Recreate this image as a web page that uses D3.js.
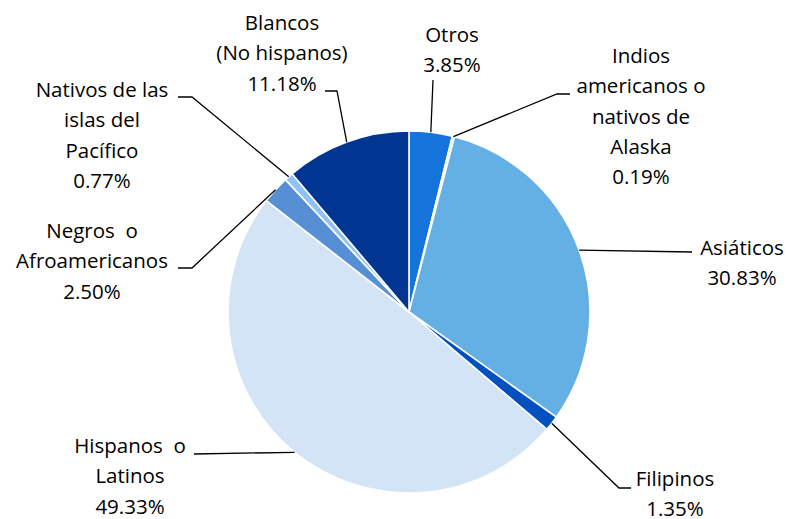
<!DOCTYPE html>
<html>
<head>
<meta charset="utf-8">
<script src="https://cdn.jsdelivr.net/npm/d3@7"></script>
<style>
  body { margin: 0; background: #fff; }
  text { font-family: "Open Sans", sans-serif; font-size: 20.5px; fill: #000; white-space: pre; }
</style>
</head>
<body>
<div id="wrapper"></div>
<script>
// data, clockwise from 12 o'clock
const categories = [
  ["Otros"],
  ["Indios", "americanos o", "nativos de", "Alaska"],
  ["Asiáticos"],
  ["Filipinos"],
  ["Hispanos  o", "Latinos"],
  ["Negros  o", "Afroamericanos"],
  ["Nativos de las", "islas del", "Pacífico"],
  ["Blancos", "(No hispanos)"]
]
const values = [3.85, 0.19, 30.83, 1.35, 49.33, 2.50, 0.77, 11.18]
const colors = ["#1574db", "#a8d0f7", "#64b0e4", "#0050c0", "#d2e4f5", "#578fd4", "#8ec1f5", "#003591"]

// label placement: text center x, first baseline y, leader points after pie edge
const labelLayout = [
  { x: 452, y: 42,  leader: [[433, 80]] },
  { x: 641, y: 63,  leader: [[557, 94], [570, 94]] },
  { x: 742, y: 255, leader: [[692, 252]] },
  { x: 675, y: 486, leader: [[619, 488], [631, 488]] },
  { x: 130, y: 453, leader: [[194, 454]] },
  { x: 92,  y: 238, leader: [[192, 268], [178, 268]] },
  { x: 102, y: 97,  leader: [[192, 97], [178, 97]] },
  { x: 282, y: 30,  leader: [[337, 91], [325, 91]] }
]

const dimensions = { width: 787, height: 519 }
const center = { x: 409, y: 312 }
const radius = 181
const lineHeight = 30.3

const svg = d3.select("#wrapper")
  .append("svg")
    .attr("width", dimensions.width)
    .attr("height", dimensions.height)

const pie = d3.pie().sort(null).value(d => d)
const arcs = pie(values)

const arcGen = d3.arc().innerRadius(0).outerRadius(radius)
const edgeArc = d3.arc().innerRadius(radius).outerRadius(radius)

const pieGroup = svg.append("g")
  .attr("transform", `translate(${center.x},${center.y})`)

pieGroup.selectAll("path")
  .data(arcs)
  .join("path")
    .attr("d", arcGen)
    .attr("fill", (d, i) => colors[i])
    .attr("stroke", "#fff")
    .attr("stroke-width", 1.6)
    .attr("stroke-linejoin", "round")

// leader lines
const line = d3.line()
arcs.forEach((d, i) => {
  const [ex, ey] = edgeArc.centroid(d)
  const pts = [[center.x + ex, center.y + ey], ...labelLayout[i].leader]
  svg.append("path")
    .attr("d", line(pts))
    .attr("fill", "none")
    .attr("stroke", "#000")
    .attr("stroke-width", 1.3)
})

// labels
categories.forEach((lines, i) => {
  const all = [...lines, d3.format(".2f")(values[i]) + "%"]
  const t = svg.append("text")
    .attr("text-anchor", "middle")
  all.forEach((s, j) => {
    t.append("tspan")
      .attr("x", labelLayout[i].x)
      .attr("y", labelLayout[i].y + j * lineHeight)
      .text(s)
  })
})
</script>
</body>
</html>
